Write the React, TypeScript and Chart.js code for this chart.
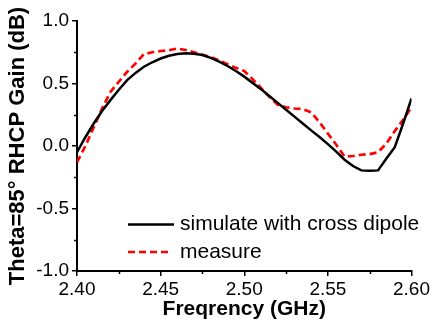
import React, { useEffect, useRef } from "react";
import { Chart, registerables } from "chart.js";

Chart.register(...registerables);

const freq = [
  2.4, 2.405, 2.41, 2.415, 2.42, 2.425, 2.43, 2.435, 2.44, 2.445,
  2.45, 2.455, 2.46, 2.465, 2.47, 2.475, 2.48, 2.485, 2.49, 2.495,
  2.5, 2.505, 2.51, 2.515, 2.52, 2.525, 2.53, 2.535, 2.54, 2.545,
  2.55, 2.555, 2.56, 2.565, 2.57, 2.575, 2.58, 2.585, 2.59, 2.595, 2.6,
];

const simulate = [
  -0.05, 0.07, 0.18, 0.28, 0.367, 0.45, 0.527, 0.585, 0.634, 0.67,
  0.7, 0.722, 0.736, 0.741, 0.738, 0.728, 0.705, 0.675, 0.64, 0.6,
  0.555, 0.505, 0.455, 0.4, 0.345, 0.29, 0.235, 0.18, 0.125, 0.072,
  0.015, -0.045, -0.11, -0.16, -0.195, -0.197, -0.195, -0.1, -0.01, 0.18, 0.38,
];

const measure = [
  -0.13, 0.0, 0.15, 0.3, 0.433, 0.514, 0.594, 0.66, 0.735, 0.75,
  0.76, 0.766, 0.78, 0.768, 0.75, 0.73, 0.71, 0.685, 0.655, 0.625,
  0.6, 0.535, 0.465, 0.393, 0.33, 0.31, 0.3, 0.295, 0.27, 0.19,
  0.1, 0.01, -0.085, -0.08, -0.07, -0.065, -0.05, 0.02, 0.12, 0.21, 0.31,
];

const seriesLabels = ["simulate with cross dipole", "measure"];
const xTitle = "Freqrency (GHz)";
const yTitle = "Theta=85\u00b0 RHCP Gain (dB)";

const FONT = '"Liberation Sans", Arial, Helvetica, sans-serif';

const minorTicksPlugin = {
  id: "minorTicks",
  afterDraw(chart: any) {
    const ctx = chart.ctx;
    const { left, bottom } = chart.chartArea;
    const xs = chart.scales.x;
    const ys = chart.scales.y;
    ctx.save();
    ctx.strokeStyle = "#000";
    ctx.lineWidth = 1.5;
    ctx.beginPath();
    for (let i = 0; i < xs.ticks.length - 1; i++) {
      const v = (xs.ticks[i].value + xs.ticks[i + 1].value) / 2;
      const px = Math.round(xs.getPixelForValue(v)) + 0.5;
      ctx.moveTo(px, bottom);
      ctx.lineTo(px, bottom + 3);
    }
    for (let i = 0; i < ys.ticks.length - 1; i++) {
      const v = (ys.ticks[i].value + ys.ticks[i + 1].value) / 2;
      const py = Math.round(ys.getPixelForValue(v)) + 0.5;
      ctx.moveTo(left, py);
      ctx.lineTo(left - 3, py);
    }
    ctx.stroke();
    ctx.restore();
  },
};

const legendPlugin = {
  id: "insideLegend",
  afterDraw(chart: any) {
    const ctx = chart.ctx;
    const { left, top } = chart.chartArea;
    const x0 = left + 51;
    const lineLen = 46;
    const rows = [top + 203.5, top + 231];
    ctx.save();
    chart.data.datasets.forEach((ds: any, i: number) => {
      const y = rows[i];
      ctx.beginPath();
      ctx.strokeStyle = ds.borderColor;
      ctx.lineWidth = ds.borderWidth;
      ctx.setLineDash(ds.borderDash || []);
      ctx.moveTo(x0, y);
      ctx.lineTo(x0 + (ds.borderDash ? 40 : lineLen), y);
      ctx.stroke();
      ctx.setLineDash([]);
      ctx.fillStyle = "#000";
      ctx.font = `21px ${FONT}`;
      ctx.textBaseline = "middle";
      ctx.textAlign = "left";
      ctx.fillText(ds.label, x0 + 52, y);
    });
    ctx.restore();
  },
};

export default function App() {
  const ref = useRef<HTMLCanvasElement | null>(null);

  useEffect(() => {
    document.body.style.margin = "0";
    const canvas = ref.current;
    if (!canvas) return;
    const chart = new Chart(canvas, {
      type: "line",
      data: {
        datasets: [
          {
            label: seriesLabels[0],
            data: freq.map((f, i) => ({ x: f, y: simulate[i] })),
            borderColor: "#000000",
            backgroundColor: "#000000",
            borderWidth: 2.5,
            pointRadius: 0,
            tension: 0,
          },
          {
            label: seriesLabels[1],
            data: freq.map((f, i) => ({ x: f, y: measure[i] })),
            borderColor: "#ff0000",
            backgroundColor: "#ff0000",
            borderWidth: 2.7,
            borderDash: [7, 4],
            pointRadius: 0,
            tension: 0,
          },
        ],
      },
      options: {
        animation: false,
        responsive: false,
        devicePixelRatio: 1,
        layout: { padding: { top: 21, right: 20, left: 0, bottom: 0 } },
        plugins: {
          legend: { display: false },
          tooltip: { enabled: false },
        },
        scales: {
          x: {
            type: "linear",
            min: 2.4,
            max: 2.6,
            afterFit: (s: any) => {
              s.height = 57;
            },
            border: { display: true, color: "#000", width: 2 },
            grid: {
              display: true,
              drawOnChartArea: false,
              drawTicks: true,
              tickLength: 5,
              color: "#000",
              lineWidth: 1.5,
            },
            ticks: {
              stepSize: 0.05,
              padding: 2,
              color: "#000",
              font: { family: FONT, size: 19 },
              maxRotation: 0,
              callback: (v: any) => Number(v).toFixed(2),
            },
            title: {
              display: true,
              text: xTitle,
              color: "#000",
              font: { family: FONT, size: 21, weight: "bold" },
              padding: { top: 0, bottom: 6 },
            },
          },
          y: {
            min: -1,
            max: 1,
            afterFit: (s: any) => {
              s.width = 77;
            },
            border: { display: true, color: "#000", width: 2 },
            grid: {
              display: true,
              drawOnChartArea: false,
              drawTicks: true,
              tickLength: 5,
              color: "#000",
              lineWidth: 1.5,
            },
            ticks: {
              stepSize: 0.5,
              padding: 3,
              color: "#000",
              font: { family: FONT, size: 19 },
              callback: (v: any) => Number(v).toFixed(1),
            },
            title: {
              display: true,
              text: yTitle,
              color: "#000",
              font: { family: FONT, size: 22, weight: "bold" },
              padding: { top: 5, bottom: 0 },
            },
          },
        },
      },
      plugins: [minorTicksPlugin, legendPlugin],
    });
    return () => chart.destroy();
  }, []);

  return (
    <div style={{ width: 432, height: 328 }}>
      <canvas ref={ref} width={432} height={328} />
    </div>
  );
}
